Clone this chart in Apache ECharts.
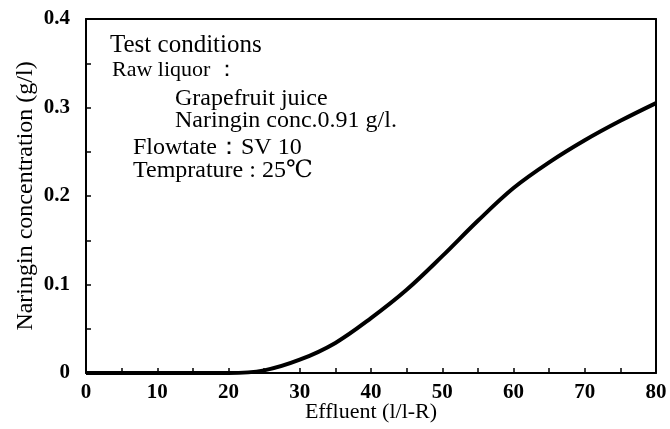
<!DOCTYPE html>
<html>
<head>
<meta charset="utf-8">
<script src="https://cdn.jsdelivr.net/npm/echarts@6/dist/echarts.min.js"></script>
<style>
  html, body { margin: 0; padding: 0; background: #fff; }
  #chart { width: 670px; height: 429px; }
</style>
</head>
<body>
<div id="chart"></div>
<script>
// effluent volume (l/l-R)
var effluent = [0, 5, 10, 15, 20, 25, 30, 35, 40, 45, 50, 55, 60, 65, 70, 75, 80];
// naringin concentration (g/l)
var naringin = [0, 0, 0, 0, 0, 0.003, 0.015, 0.034, 0.062, 0.094, 0.132, 0.172, 0.209, 0.238, 0.263, 0.285, 0.305];

// text block: left x and baseline y in pixels
var conditions = [
  { text: 'Test conditions', x: 110, y: 53, size: 25 },
  { text: 'Raw liquor ：', x: 112, y: 77, size: 22 },
  { text: 'Grapefruit juice', x: 175, y: 106, size: 24 },
  { text: 'Naringin conc.0.91 g/l.', x: 175, y: 128, size: 24 },
  { text: 'Flowtate：SV 10', x: 133, y: 155, size: 24 },
  { text: 'Temprature : 25℃', x: 133, y: 178, size: 24 }
];

var serif = '"Liberation Serif", "DejaVu Serif", serif';

var chart = echarts.init(document.getElementById('chart'));

chart.setOption({
  animation: false,
  backgroundColor: '#fff',
  grid: { left: 86, right: 14, top: 19, bottom: 56, outerBoundsMode: 'none', containLabel: false },
  xAxis: [{
    type: 'value',
    min: 0, max: 80, interval: 10,
    name: 'Effluent (l/l-R)',
    nameLocation: 'middle',
    nameGap: 28,
    nameMoveOverlap: false,
    nameTextStyle: { color: '#000', fontFamily: serif, fontSize: 22 },
    axisLine: { lineStyle: { color: '#000', width: 2 } },
    axisTick: { inside: true, length: 5, lineStyle: { color: '#000', width: 1.5 } },
    minorTick: { show: true, splitNumber: 2, length: 5, lineStyle: { color: '#000', width: 1.5 } },
    axisLabel: { color: '#000', fontFamily: serif, fontWeight: 'bold', fontSize: 21, margin: 9 },
    splitLine: { show: false }
  }, {
    type: 'value', position: 'top', min: 0, max: 80,
    axisLine: { show: true, onZero: false, lineStyle: { color: '#000', width: 2 } },
    axisTick: { show: false }, axisLabel: { show: false }, splitLine: { show: false }
  }],
  yAxis: [{
    type: 'value',
    min: 0, max: 0.4, interval: 0.1,
    name: 'Naringin concentration (g/l)',
    nameLocation: 'middle',
    nameGap: 48,
    nameMoveOverlap: false,
    nameTextStyle: { color: '#000', fontFamily: serif, fontSize: 24 },
    axisLine: { show: true, lineStyle: { color: '#000', width: 2 } },
    axisTick: { inside: true, length: 5, lineStyle: { color: '#000', width: 1.5 } },
    minorTick: { show: true, splitNumber: 2, length: 5, lineStyle: { color: '#000', width: 1.5 } },
    axisLabel: {
      color: '#000', fontFamily: serif, fontWeight: 'bold', fontSize: 21, margin: 16,
      formatter: function (v) { return v === 0 ? '0' : v.toFixed(1); }
    },
    splitLine: { show: false }
  }, {
    type: 'value', position: 'right', min: 0, max: 0.4,
    axisLine: { show: true, onZero: false, lineStyle: { color: '#000', width: 2 } },
    axisTick: { show: false }, axisLabel: { show: false }, splitLine: { show: false }
  }],
  series: [{
    type: 'line',
    data: effluent.map(function (x, i) { return [x, naringin[i]]; }),
    smooth: 0.35,
    showSymbol: false,
    lineStyle: { color: '#000', width: 4 }
  }],
  graphic: conditions.map(function (c) {
    return {
      type: 'text', left: c.x, top: c.y - 0.8 * c.size,
      style: { text: c.text, fill: '#000', font: c.size + 'px ' + serif }
    };
  })
});
</script>
</body>
</html>
